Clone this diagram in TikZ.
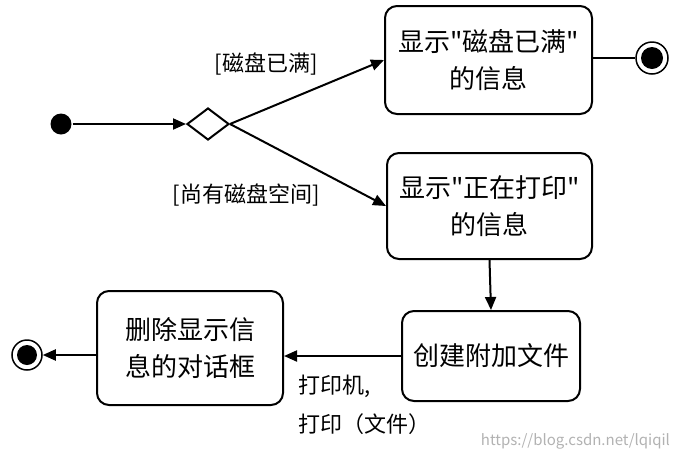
\documentclass[tikz,border=0pt]{standalone}
\usepackage{fontspec}
\newfontfamily\cjk{Noto Sans CJK SC}
\usetikzlibrary{arrows.meta,shapes.geometric}
\begin{document}
\begin{tikzpicture}[x=1pt,y=-1pt,line width=2pt,
  state/.style={draw,rounded corners=12pt,align=center,inner sep=0pt,
    font=\cjk\fontsize{26}{37}\selectfont},
  lbl/.style={inner sep=0pt,font=\cjk\fontsize{22}{39}\selectfont},
  arr/.style={-{Triangle[length=13pt,width=11pt]}},
  endpt/.style={circle,draw,line width=1.5pt,minimum size=#1,inner sep=0pt}]
\useasboundingbox (0,0) rectangle (673,456);
% states
\node[state,minimum width=207pt,minimum height=108pt] (b1) at (488.5,60) {显示"磁盘已满"\\的信息};
\node[state,minimum width=205pt,minimum height=106pt] (b2) at (489.5,206) {显示"正在打印"\\的信息};
\node[state,minimum width=178pt,minimum height=90pt] (b3) at (491,356) {创建附加文件};
\node[state,minimum width=186pt,minimum height=114pt] (b4) at (190,348) {删除显示信\\息的对话框};
% start, decision, ends
\node[circle,fill,minimum size=21pt,inner sep=0pt] (s) at (61,124) {};
\node[diamond,draw,minimum width=42pt,minimum height=32pt,inner sep=0pt] (d) at (208,124) {};
\node[endpt=32pt] (e1) at (652,58) {};
\fill (e1.center) circle (11pt);
\node[endpt=30pt] (e2) at (27,355) {};
\fill (e2.center) circle (10pt);
% connectors
\draw[arr] (s) -- (d.west);
\draw[arr] (d.east) -- (b1.west);
\draw[arr] (d.east) -- (b2.west);
\draw (e1.west -| b1.east) -- (e1.west);
\draw[arr] (b2.south) -- (b3.north);
\draw[arr] (b3.west) -- (b3.west -| b4.east);
\draw[arr] (e2.east -| b4.west) -- (e2.east);
% labels
\node[lbl] (l1) at (266,64) {[磁盘已满]};
\node[lbl] (l2) at (246,195) {[尚有磁盘空间]};
\node[lbl,align=left,anchor=north west] (l3) at (297,374) {打印机,\\打印（文件）};
\node[inner sep=0pt,text=black!30,font=\cjk\fontsize{15}{18}\selectfont,anchor=east] (wm) at (671,441) {https://blog.csdn.net/lqiqil};
\end{tikzpicture}
\end{document}
